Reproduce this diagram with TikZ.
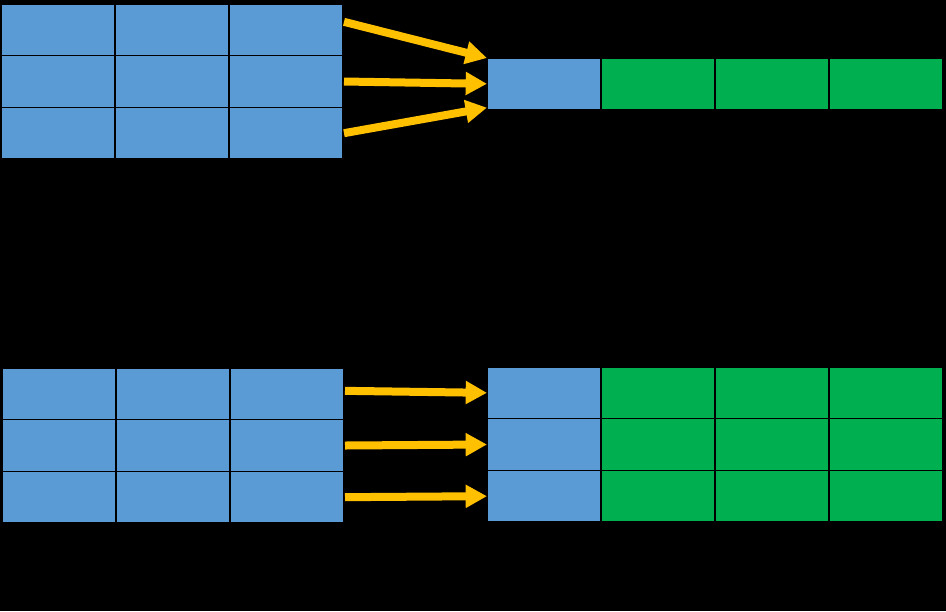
\documentclass[tikz,border=0pt]{standalone}
\usetikzlibrary{arrows.meta,calc}

\tikzset{every picture/.style={line width=0.75pt}}
\definecolor{cellblue}{RGB}{91,155,213}
\definecolor{cellgreen}{RGB}{0,176,80}
\definecolor{arrowgold}{RGB}{255,192,0}
\tikzset{
  cell/.style={draw=black, line width=1pt, inner sep=0pt, outer sep=0pt,
    minimum width=85.5pt, minimum height=38.75pt, anchor=north west},
  bluecell/.style={cell, fill=cellblue},
  greencell/.style={cell, fill=cellgreen},
  goldarrow/.style={draw=arrowgold, line width=6pt,
    -{Triangle[width=16.5pt,length=16pt]}}
}

\begin{document}
\begin{tikzpicture}[x=0.75pt,y=0.75pt,yscale=-1,xscale=1]
        % background
        \fill[black] (0,0) rectangle (946,611);
        \useasboundingbox (0,0) rectangle (946,611);

        % upper source grid
        \foreach \r in {1,2,3}
          \foreach \c in {1,2,3}
            \node[bluecell] (a\r\c) at ({1+114*(\c-1)},{4+51.67*(\r-1)}) {};

        % upper target row
        \node[bluecell] (b1) at (487,58) {};
        \foreach \c in {2,3,4}
          \node[greencell] (b\c) at ({487+114*(\c-1)},58) {};

        % lower source grid
        \foreach \r in {1,2,3}
          \foreach \c in {1,2,3}
            \node[bluecell] (c\r\c) at ({2+114*(\c-1)},{368+51.67*(\r-1)}) {};

        % lower target grid
        \foreach \r in {1,2,3}{
          \node[bluecell] (d\r1) at (487,{367+51.67*(\r-1)}) {};
          \foreach \c in {2,3,4}
            \node[greencell] (d\r\c) at ({487+114*(\c-1)},{367+51.67*(\r-1)}) {};
        }

        % upper arrows
        \draw[goldarrow] ($(a13.east)+(1,-8)$) -- (b1.north west);
        \draw[goldarrow] ($(a23.east)+(1,0)$) -- (b1.west);
        \draw[goldarrow] ($(a33.east)+(1,0)$) -- ($(b1.south west)+(0,-2)$);

        % lower arrows
        \draw[goldarrow] ($(c13.east)+(1,-3)$) -- (d11.west);
        \draw[goldarrow] ($(c23.east)+(1,0)$) -- (d21.west);
        \draw[goldarrow] ($(c33.east)+(1,0)$) -- (d31.west);
\end{tikzpicture}
\end{document}
